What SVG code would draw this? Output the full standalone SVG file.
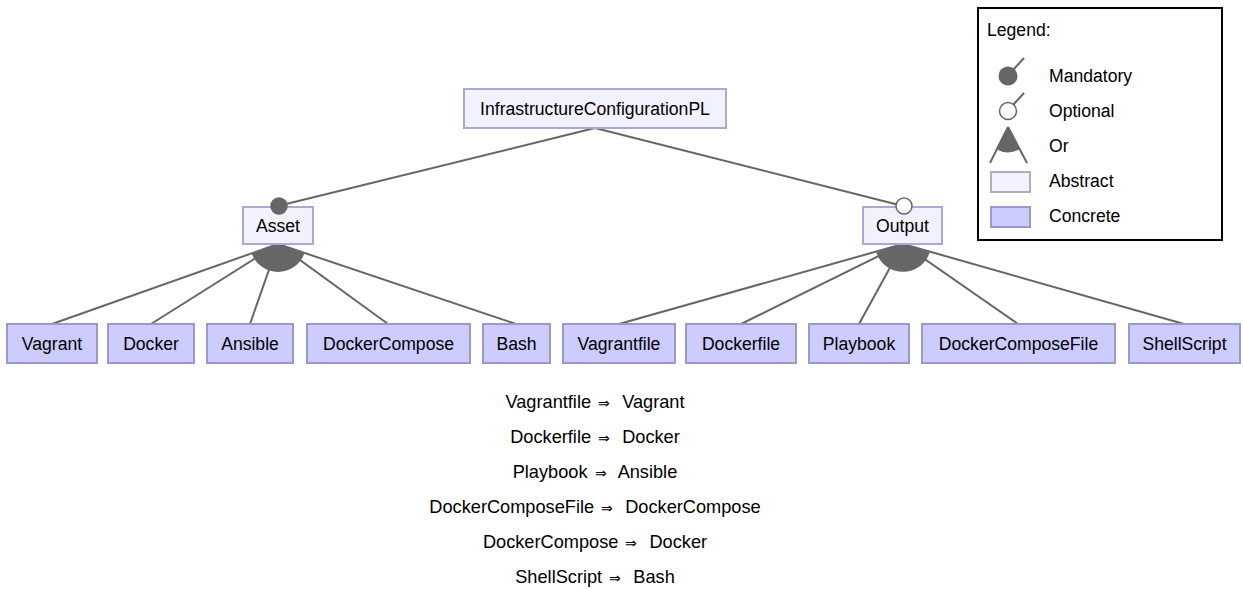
<svg xmlns="http://www.w3.org/2000/svg" width="1243" height="589" viewBox="0 0 1243 589">
<style>
text{font-family:"Liberation Sans",Arial,sans-serif;font-size:17.6px;fill:#000}
.c{text-anchor:middle}
.k{font-size:18.2px}
.abs{fill:#f2f2ff;stroke:#a9a9d6;stroke-width:2}
.con{fill:#ccccff;stroke:#9a9ac8;stroke-width:2}
.ln{stroke:#666;stroke-width:2;fill:none}
.or{fill:#666;stroke:none}
.man{fill:#666;stroke:#666;stroke-width:1.5}
.opt{fill:#fff;stroke:#666;stroke-width:1.5}
.ar{font-size:13.5px}
</style>
<rect width="1243" height="589" fill="#fff"/>
<g id="connectors">
<line class="ln" x1="595" y1="128" x2="278" y2="206"/>
<line class="ln" x1="595" y1="128" x2="903" y2="206"/>
<line class="ln" x1="278" y1="244" x2="52" y2="324"/>
<line class="ln" x1="278" y1="244" x2="151" y2="324"/>
<line class="ln" x1="278" y1="244" x2="250" y2="324"/>
<line class="ln" x1="278" y1="244" x2="388" y2="324"/>
<line class="ln" x1="278" y1="244" x2="516" y2="324"/>
<line class="ln" x1="903" y1="244" x2="619" y2="324"/>
<line class="ln" x1="903" y1="244" x2="741" y2="324"/>
<line class="ln" x1="903" y1="244" x2="859" y2="324"/>
<line class="ln" x1="903" y1="244" x2="1018" y2="324"/>
<line class="ln" x1="903" y1="244" x2="1184" y2="324"/>
<path class="or" d="M278,244 L251.6,253.3 A28,28 0 0 0 304.4,253.3 Z"/>
<path class="or" d="M903,244 L876.4,252.6 A28,28 0 0 0 929.6,252.6 Z"/>
</g>
<g id="root">
<rect class="abs" x="464" y="89" width="262" height="39"/>
<text class="c" x="595" y="115">InfrastructureConfigurationPL</text>
</g>
<g id="asset">
<rect class="abs" x="243" y="207" width="70" height="37"/>
<text class="c" x="278" y="232">Asset</text>
<circle class="man" cx="279" cy="206" r="8"/>
</g>
<g id="output">
<rect class="abs" x="863" y="207" width="79" height="37"/>
<text class="c" x="902.5" y="232">Output</text>
<circle class="opt" cx="904" cy="206" r="8"/>
</g>
<g id="vagrant"><rect class="con" x="7" y="324" width="90" height="39"/><text class="c" x="52" y="350">Vagrant</text></g>
<g id="docker"><rect class="con" x="108" y="324" width="86" height="39"/><text class="c" x="151" y="350">Docker</text></g>
<g id="ansible"><rect class="con" x="207" y="324" width="86" height="39"/><text class="c" x="250" y="350">Ansible</text></g>
<g id="dockercompose"><rect class="con" x="307" y="324" width="163" height="39"/><text class="c" x="388.5" y="350">DockerCompose</text></g>
<g id="bash"><rect class="con" x="483" y="324" width="67" height="39"/><text class="c" x="516.5" y="350">Bash</text></g>
<g id="vagrantfile"><rect class="con" x="563" y="324" width="112" height="39"/><text class="c" x="619" y="350">Vagrantfile</text></g>
<g id="dockerfile"><rect class="con" x="686" y="324" width="110" height="39"/><text class="c" x="741" y="350">Dockerfile</text></g>
<g id="playbook"><rect class="con" x="809" y="324" width="100" height="39"/><text class="c" x="859" y="350">Playbook</text></g>
<g id="dockercomposefile"><rect class="con" x="922" y="324" width="193" height="39"/><text class="c" x="1018.5" y="350">DockerComposeFile</text></g>
<g id="shellscript"><rect class="con" x="1129" y="324" width="111" height="39"/><text class="c" x="1184.5" y="350">ShellScript</text></g>
<g id="constraints">
<text class="c k" x="595" y="408">Vagrantfile <tspan class="ar" dx="2">⇒</tspan><tspan dx="7"> Vagrant</tspan></text>
<text class="c k" x="595" y="443">Dockerfile <tspan class="ar" dx="2">⇒</tspan><tspan dx="7"> Docker</tspan></text>
<text class="c k" x="595" y="478">Playbook <tspan class="ar" dx="2">⇒</tspan><tspan dx="7"> Ansible</tspan></text>
<text class="c k" x="595" y="513">DockerComposeFile <tspan class="ar" dx="2">⇒</tspan><tspan dx="7"> DockerCompose</tspan></text>
<text class="c k" x="595" y="548">DockerCompose <tspan class="ar" dx="2">⇒</tspan><tspan dx="7"> Docker</tspan></text>
<text class="c k" x="595" y="583">ShellScript <tspan class="ar" dx="2">⇒</tspan><tspan dx="7"> Bash</tspan></text>
</g>
<g id="legend">
<rect x="978" y="8" width="244" height="232" fill="#fff" stroke="#000" stroke-width="2"/>
<text x="987" y="36" font-size="16">Legend:</text>
<line class="ln" x1="1013" y1="70" x2="1024" y2="58" stroke-width="1.5"/>
<circle cx="1008" cy="76" r="9.5" fill="#666"/>
<text x="1049" y="82">Mandatory</text>
<line class="ln" x1="1013" y1="105" x2="1024" y2="93" stroke-width="1.5"/>
<circle class="opt" cx="1008" cy="111" r="8.5"/>
<text x="1049" y="117">Optional</text>
<path class="or" d="M1008,127 L996,149 A24,24 0 0 0 1020,149 Z"/>
<line class="ln" x1="1008" y1="127" x2="990" y2="163" stroke-width="1.5"/>
<line class="ln" x1="1008" y1="127" x2="1027" y2="163" stroke-width="1.5"/>
<text x="1049" y="152">Or</text>
<rect x="991" y="172" width="39" height="20" fill="#f2f2ff" stroke="#b0b0b8" stroke-width="2"/>
<text x="1049" y="187">Abstract</text>
<rect x="991" y="207" width="39" height="20" fill="#ccccff" stroke="#9a9ac8" stroke-width="2"/>
<text x="1049" y="222">Concrete</text>
</g>
</svg>
